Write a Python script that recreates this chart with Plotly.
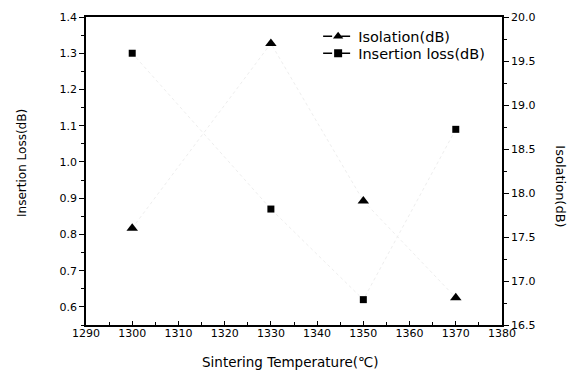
import plotly.graph_objects as go

temperature = [1300, 1330, 1350, 1370]
insertion_loss = [1.30, 0.87, 0.62, 1.09]
isolation = [17.60, 19.70, 17.91, 16.81]

left_ticks = [0.6, 0.7, 0.8, 0.9, 1.0, 1.1, 1.2, 1.3, 1.4]
right_ticks = [16.5, 17.0, 17.5, 18.0, 18.5, 19.0, 19.5, 20.0]
x_ticks = [1290, 1300, 1310, 1320, 1330, 1340, 1350, 1360, 1370, 1380]

font_family = "DejaVu Sans, sans-serif"

fig = go.Figure()

# faint connecting lines (barely visible in the scanned reference)
fig.add_trace(go.Scatter(x=temperature, y=insertion_loss, mode="lines",
                         line=dict(color="#eeeeee", width=1, dash="dot"),
                         showlegend=False, hoverinfo="skip"))
fig.add_trace(go.Scatter(x=temperature, y=isolation, mode="lines", yaxis="y2",
                         line=dict(color="#eeeeee", width=1, dash="dot"),
                         showlegend=False, hoverinfo="skip"))

# markers
fig.add_trace(go.Scatter(x=temperature, y=insertion_loss, mode="markers",
                         marker=dict(symbol="square", size=7, color="black"),
                         showlegend=False))
fig.add_trace(go.Scatter(x=temperature, y=isolation, mode="markers", yaxis="y2",
                         marker=dict(symbol="triangle-up", size=10, color="black"),
                         showlegend=False))

# legend entries (two single-item legends for precise placement)
fig.add_trace(go.Scatter(x=[None], y=[None], mode="lines+markers", name="Isolation(dB)",
                         line=dict(color="black", width=1.5, dash="dash"),
                         marker=dict(symbol="triangle-up", size=9, color="black"),
                         legend="legend"))
fig.add_trace(go.Scatter(x=[None], y=[None], mode="lines+markers", name="Insertion loss(dB)",
                         line=dict(color="black", width=1.5, dash="dash"),
                         marker=dict(symbol="square", size=8, color="black"),
                         legend="legend2"))

legend_common = dict(xanchor="left", yanchor="middle", bgcolor="rgba(0,0,0,0)",
                     font=dict(size=14.5, color="black", family=font_family),
                     itemwidth=30, borderwidth=0)

fig.update_layout(
    width=569, height=373,
    margin=dict(l=86, r=67, t=17, b=48),
    paper_bgcolor="white", plot_bgcolor="white",
    font=dict(family=font_family, size=11, color="black"),
    showlegend=True,
    legend=dict(x=0.558, y=0.937, **legend_common),
    legend2=dict(x=0.558, y=0.882, **legend_common),
    xaxis=dict(range=[1290, 1380], tickvals=x_ticks, ticktext=[str(v) for v in x_ticks],
               showgrid=False, zeroline=False, showline=True, linecolor="black", linewidth=1.5,
               mirror=True, ticks="inside", ticklen=4, tickcolor="black",
               ticklabelstandoff=-3,
               minor=dict(dtick=5, tick0=1290, ticks="inside", ticklen=3, tickcolor="black")),
    yaxis=dict(range=[0.55, 1.4], tickvals=left_ticks, ticktext=[f"{v:.1f}" for v in left_ticks],
               showgrid=False, zeroline=False, showline=True, linecolor="black", linewidth=1.5,
               ticks="outside", ticklen=5, tickcolor="black",
               minor=dict(dtick=0.05, tick0=0.55, ticks="outside", ticklen=3, tickcolor="black")),
    yaxis2=dict(range=[16.5, 20.0], overlaying="y", side="right", tickvals=right_ticks,
                ticktext=[f"{v:.1f}" for v in right_ticks],
                showgrid=False, zeroline=False, showline=True, linecolor="black", linewidth=1.5,
                ticks="outside", ticklen=5, tickcolor="black",
                minor=dict(dtick=0.25, tick0=16.5, ticks="outside", ticklen=3, tickcolor="black")),
    annotations=[
        dict(text="Sintering Temperature(℃)", xref="paper", yref="paper", x=0.49, y=-0.12,
             showarrow=False, font=dict(size=13.5, color="black"),
             xanchor="center", yanchor="middle"),
        dict(text="Insertion Loss(dB)", xref="paper", yref="paper", x=-0.154, y=0.526,
             textangle=-90, showarrow=False, font=dict(size=12, color="black"),
             xanchor="center", yanchor="middle"),
        dict(text="Isolation(dB)", xref="paper", yref="paper", x=1.142, y=0.45,
             textangle=90, showarrow=False, font=dict(size=13, color="black"),
             xanchor="center", yanchor="middle"),
    ],
)

fig.write_html("out.html", config={"displayModeBar": False},
               post_script="document.body.style.margin='0';document.body.style.overflow='hidden';")
